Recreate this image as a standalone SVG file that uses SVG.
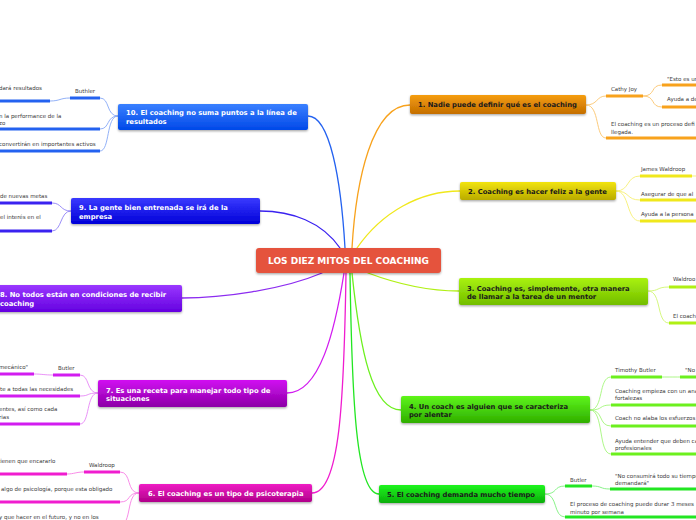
<svg xmlns="http://www.w3.org/2000/svg" width="696" height="520" viewBox="0 0 696 520">
<style>
.mt{font-family:"DejaVu Sans",Verdana,sans-serif;font-weight:bold;font-size:6.8px}
.dk{fill:#1a1a1a}
.wt{fill:#ffffff}
.st{font-family:"DejaVu Sans",Verdana,sans-serif;font-size:5.5px;fill:#3a3a3a}
.ct{font-family:"DejaVu Sans",Verdana,sans-serif;font-weight:bold;font-size:9px;fill:#ffffff}
.main{fill:none;stroke-width:1.3;stroke-linecap:round}
.sub{fill:none;stroke-width:0.9}
.bar{fill:none;stroke-width:3}
</style>
<defs>
<filter id="sh" x="-10%" y="-30%" width="120%" height="170%"><feDropShadow dx="0" dy="1.2" stdDeviation="1" flood-color="#000" flood-opacity="0.35"/></filter>
<linearGradient id="g1" x1="0" y1="0" x2="0" y2="1"><stop offset="0" stop-color="#f59d10"/><stop offset="1" stop-color="#c46e00"/></linearGradient>
<linearGradient id="g2" x1="0" y1="0" x2="0" y2="1"><stop offset="0" stop-color="#f2e40c"/><stop offset="1" stop-color="#b9ab00"/></linearGradient>
<linearGradient id="g3" x1="0" y1="0" x2="0" y2="1"><stop offset="0" stop-color="#a9f20e"/><stop offset="1" stop-color="#72bd00"/></linearGradient>
<linearGradient id="g4" x1="0" y1="0" x2="0" y2="1"><stop offset="0" stop-color="#5ef51a"/><stop offset="1" stop-color="#2fae00"/></linearGradient>
<linearGradient id="g5" x1="0" y1="0" x2="0" y2="1"><stop offset="0" stop-color="#1ef51e"/><stop offset="1" stop-color="#0aae0a"/></linearGradient>
<linearGradient id="g6" x1="0" y1="0" x2="0" y2="1"><stop offset="0" stop-color="#ef1cc4"/><stop offset="1" stop-color="#b0008a"/></linearGradient>
<linearGradient id="g7" x1="0" y1="0" x2="0" y2="1"><stop offset="0" stop-color="#d10ef2"/><stop offset="1" stop-color="#8c00a6"/></linearGradient>
<linearGradient id="g8" x1="0" y1="0" x2="0" y2="1"><stop offset="0" stop-color="#9a38ff"/><stop offset="1" stop-color="#6400e0"/></linearGradient>
<linearGradient id="g9" x1="0" y1="0" x2="0" y2="1"><stop offset="0" stop-color="#3a3aff"/><stop offset="1" stop-color="#0000d8"/></linearGradient>
<linearGradient id="g10" x1="0" y1="0" x2="0" y2="1"><stop offset="0" stop-color="#3a80ff"/><stop offset="1" stop-color="#0048e8"/></linearGradient>
</defs>
<rect width="696" height="520" fill="#ffffff"/>

<g id="connectors">
<path class="main" stroke="#f8a21c" d="M352,248 C356,180 372,105 410,105"/>
<path class="main" stroke="#f0e81c" d="M357,248 C382,212 420,191 460,191"/>
<path class="main" stroke="#b0f014" d="M368,273 C400,285 432,291 459,291"/>
<path class="main" stroke="#6cf01e" d="M352,273 C360,350 372,410 401,410"/>
<path class="main" stroke="#22e622" d="M350,273 C352,400 356,494 379,494"/>
<path class="main" stroke="#f01ccf" d="M346,273 C344,400 340,493 312,493"/>
<path class="main" stroke="#d21cf0" d="M344,273 C335,330 320,393 287,393"/>
<path class="main" stroke="#8c2cf0" d="M322,273 C282,290 222,298 182,298"/>
<path class="main" stroke="#3a22f0" d="M340,248 C322,222 292,211 260,211"/>
<path class="main" stroke="#2462f0" d="M345,248 C341,180 330,116 308,116"/>

<!-- branch 1 -->
<path class="sub" stroke="#fbc46c" d="M586,105 C598,105 596,96 606,96"/>
<path class="sub" stroke="#fbc46c" d="M586,105 C600,105 595,138 606,138"/>
<path class="sub" stroke="#fbc46c" d="M643,96 C656,96 650,85 662,85"/>
<path class="sub" stroke="#fbc46c" d="M643,96 C656,96 650,107 662,107"/>
<path class="bar" stroke="#f8a21c" d="M606,96 H643 M662,85 H696 M662,107 H696 M606,138 H696"/>
<!-- branch 2 -->
<path class="sub" stroke="#f6ef70" d="M616,191 C630,191 626,176 640,176"/>
<path class="sub" stroke="#f6ef70" d="M616,191 C630,191 626,200 640,200"/>
<path class="sub" stroke="#f6ef70" d="M616,191 C630,191 626,221 640,221"/>
<path class="sub" stroke="#f6ef70" d="M692,176 H696"/>
<path class="bar" stroke="#f0e81c" d="M640,176 H692 M640,200 H696 M640,221 H696"/>
<!-- branch 3 -->
<path class="sub" stroke="#d0f670" d="M648,291 C660,291 656,287 669,287"/>
<path class="sub" stroke="#d0f670" d="M648,291 C662,291 656,323 669,323"/>
<path class="bar" stroke="#b0f014" d="M669,287 H696 M669,323 H696"/>
<!-- branch 4 -->
<path class="sub" stroke="#a4f67a" d="M590,410 C604,410 598,377 611,377"/>
<path class="sub" stroke="#a4f67a" d="M590,410 C604,410 598,405 611,405"/>
<path class="sub" stroke="#a4f67a" d="M590,410 C604,410 598,426 611,426"/>
<path class="sub" stroke="#a4f67a" d="M590,410 C604,410 598,454 611,454"/>
<path class="sub" stroke="#a4f67a" d="M662,377 C670,377 672,377 680,377"/>
<path class="bar" stroke="#6cf01e" d="M611,377 H662 M680,377 H696 M611,405 H696 M611,426 H696 M611,454 H696"/>
<!-- branch 5 -->
<path class="sub" stroke="#7cf07c" d="M545,494 C558,494 553,486 565,486"/>
<path class="sub" stroke="#7cf07c" d="M545,494 C558,494 553,517 565,517"/>
<path class="sub" stroke="#7cf07c" d="M592,486 C602,486 600,489 610,489"/>
<path class="bar" stroke="#22e622" d="M565,486 H592 M610,489 H696 M565,517 H696"/>
<!-- branch 6 -->
<path class="sub" stroke="#f77fe4" d="M139,493 C126,493 132,472 120,472"/>
<path class="sub" stroke="#f77fe4" d="M139,493 C126,493 132,502 120,502"/>
<path class="sub" stroke="#f77fe4" d="M139,493 C126,493 132,525 120,525"/>
<path class="sub" stroke="#f77fe4" d="M84,472 C76,472 74,474 67,474"/>
<path class="bar" stroke="#f01ccf" d="M84,472 H120 M0,474 H67 M0,502 H120"/>
<!-- branch 7 -->
<path class="sub" stroke="#e687f6" d="M98,393 C86,393 90,375 80,375"/>
<path class="sub" stroke="#e687f6" d="M98,393 C86,393 90,396 80,396"/>
<path class="sub" stroke="#e687f6" d="M98,393 C86,393 90,424 80,424"/>
<path class="sub" stroke="#e687f6" d="M53,375 C44,375 42,374 34,374"/>
<path class="bar" stroke="#d21cf0" d="M53,375 H80 M0,374 H34 M0,396 H80 M0,424 H80"/>
<!-- branch 9 -->
<path class="sub" stroke="#8f80f6" d="M71,211 C60,211 62,203 52,203"/>
<path class="sub" stroke="#8f80f6" d="M71,211 C60,211 62,231 52,231"/>
<path class="bar" stroke="#3a22f0" d="M0,203 H52 M0,231 H52"/>
<!-- branch 10 -->
<path class="sub" stroke="#86a8f6" d="M118,116 C106,116 110,98 100,98"/>
<path class="sub" stroke="#86a8f6" d="M118,116 C106,116 110,129 100,129"/>
<path class="sub" stroke="#86a8f6" d="M118,116 C106,116 110,151 100,151"/>
<path class="sub" stroke="#86a8f6" d="M70,98 C60,98 60,101 50,101"/>
<path class="bar" stroke="#2462f0" d="M70,98 H100 M0,101 H50 M0,129 H100 M0,151 H100"/>
</g>

<g id="center">
<rect x="256" y="248" width="185" height="25" rx="3" fill="#e5533d" filter="url(#sh)"/>
<text class="ct" x="348.5" y="264" text-anchor="middle">LOS DIEZ MITOS DEL COACHING</text>
</g>

<g id="n1">
<rect x="410" y="95" width="176" height="19" rx="2" fill="url(#g1)" filter="url(#sh)"/>
<text class="mt dk" x="418" y="107">1. Nadie puede definir qué es el coaching</text>
<text class="st" x="611" y="91">Cathy Joy</text>
<text class="st" x="667" y="81">"Esto es un</text>
<text class="st" x="667" y="101">Ayuda a de</text>
<text class="st" x="611" y="126">El coaching es un proceso defi</text>
<text class="st" x="611" y="134">llegada.</text>
</g>

<g id="n2">
<rect x="460" y="182" width="156" height="18" rx="2" fill="url(#g2)" filter="url(#sh)"/>
<text class="mt dk" x="468" y="194">2. Coaching es hacer feliz a la gente</text>
<text class="st" x="641" y="171">James Waldroop</text>
<text class="st" x="641" y="196">Asegurar de que al</text>
<text class="st" x="641" y="216">Ayuda a la persona</text>
</g>

<g id="n3">
<rect x="459" y="278" width="189" height="27" rx="2" fill="url(#g3)" filter="url(#sh)"/>
<text class="mt dk" x="467" y="290.5">3. Coaching es, simplemente, otra manera</text>
<text class="mt dk" x="467" y="299">de llamar a la tarea de un mentor</text>
<text class="st" x="673" y="281">Waldroo</text>
<text class="st" x="673" y="318">El coach</text>
</g>

<g id="n4">
<rect x="401" y="396" width="189" height="27" rx="2" fill="url(#g4)" filter="url(#sh)"/>
<text class="mt dk" x="409" y="408.5">4. Un coach es alguien que se caracteriza</text>
<text class="mt dk" x="409" y="417">por alentar</text>
<text class="st" x="615" y="372">Timothy Butler</text>
<text class="st" x="685" y="372">"No</text>
<text class="st" x="615" y="392.5">Coaching empieza con un ana</text>
<text class="st" x="615" y="399.5">fortalezas</text>
<text class="st" x="615" y="420">Coach no alaba los esfuerzos</text>
<text class="st" x="615" y="442.5">Ayuda entender que deben ca</text>
<text class="st" x="615" y="449.5">profesionales</text>
</g>

<g id="n5">
<rect x="379" y="485" width="166" height="18" rx="2" fill="url(#g5)" filter="url(#sh)"/>
<text class="mt dk" x="387" y="497">5. El coaching demanda mucho tiempo</text>
<text class="st" x="570" y="482">Butler</text>
<text class="st" x="615" y="477.5">"No consumirá todo su tiempo</text>
<text class="st" x="615" y="485">demandará"</text>
<text class="st" x="570" y="506">El proceso de coaching puede durar 3 meses</text>
<text class="st" x="570" y="513.5">minuto por semana</text>
</g>

<g id="n6">
<rect x="139" y="484" width="173" height="18" rx="2" fill="url(#g6)" filter="url(#sh)"/>
<text class="mt wt" x="148" y="496">6. El coaching es un tipo de psicoterapia</text>
<text class="st" x="89" y="466.5">Waldroop</text>
<text class="st" x="-2" y="463">tienen que encararlo</text>
<text class="st" x="1" y="490.5">algo de psicología, porque esta obligado</text>
<text class="st" x="-1" y="519">y que hacer en el futuro, y no en los</text>
</g>

<g id="n7">
<rect x="98" y="380" width="189" height="27" rx="2" fill="url(#g7)" filter="url(#sh)"/>
<text class="mt wt" x="106" y="392.5">7. Es una receta para manejar todo tipo de</text>
<text class="mt wt" x="106" y="401">situaciones</text>
<text class="st" x="58" y="370">Butler</text>
<text class="st" x="-1" y="368.5">mecánico"</text>
<text class="st" x="0" y="391">te a todas las necesidades</text>
<text class="st" x="-1" y="411">entes, así como cada</text>
<text class="st" x="-1" y="418.5">rias</text>
</g>

<g id="n8">
<rect x="-8" y="285" width="190" height="27" rx="2" fill="url(#g8)" filter="url(#sh)"/>
<text class="mt wt" x="0" y="297">8. No todos están en condiciones de recibir</text>
<text class="mt wt" x="0" y="305.5">coaching</text>
</g>

<g id="n9">
<rect x="71" y="198" width="189" height="26" rx="2" fill="url(#g9)" filter="url(#sh)"/>
<text class="mt wt" x="79" y="209.5">9. La gente bien entrenada se irá de la</text>
<text class="mt wt" x="79" y="218.5">empresa</text>
<text class="st" x="0" y="198">de nuevas metas</text>
<text class="st" x="0" y="219">el interés en el</text>
</g>

<g id="n10">
<rect x="118" y="104" width="190" height="26" rx="2" fill="url(#g10)" filter="url(#sh)"/>
<text class="mt wt" x="126" y="115">10. El coaching no suma puntos a la línea de</text>
<text class="mt wt" x="126" y="124">resultados</text>
<text class="st" x="75" y="93">Buthler</text>
<text class="st" x="-1" y="90">dará resultados</text>
<text class="st" x="-1" y="118">n la performance de la</text>
<text class="st" x="-1" y="124.5">zo</text>
<text class="st" x="-1" y="146">convertirán en importantes activos</text>
</g>
</svg>
